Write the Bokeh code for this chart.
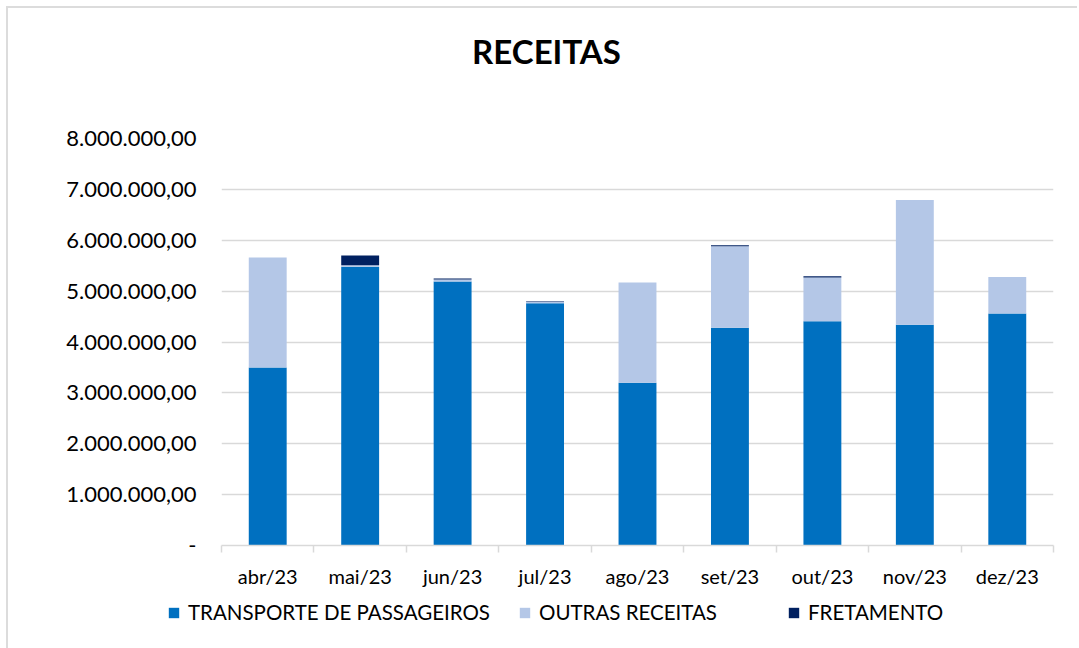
from bokeh.plotting import figure
from bokeh.models import ColumnDataSource, FixedTicker, Legend, LegendItem, Range1d, Label
from bokeh.embed import file_html
from bokeh.resources import INLINE
import numpy as np

months = ["abr/23", "mai/23", "jun/23", "jul/23", "ago/23", "set/23", "out/23", "nov/23", "dez/23"]
transporte = [3500000, 5480000, 5190000, 4760000, 3200000, 4280000, 4410000, 4340000, 4560000]
outras = [2160000, 30000, 40000, 30000, 1970000, 1600000, 860000, 2450000, 720000]
fretamento = [0, 190000, 20000, 10000, 0, 20000, 20000, 0, 0]
series_names = ["TRANSPORTE DE PASSAGEIROS", "OUTRAS RECEITAS", "FRETAMENTO"]
colors = ["#0070C0", "#B4C7E7", "#002060"]
y_ticks = [0, 1000000, 2000000, 3000000, 4000000, 5000000, 6000000, 7000000, 8000000]
y_tick_labels = ["-", "1.000.000,00", "2.000.000,00", "3.000.000,00", "4.000.000,00",
                 "5.000.000,00", "6.000.000,00", "7.000.000,00", "8.000.000,00"]
title_text = "RECEITAS"

FONT = "Lato"
W = 1071
BORDER = "2px solid #dcdcdc"
centers = (np.arange(len(months)) + 0.5).tolist()
src = ColumnDataSource(dict(x=centers, transporte=transporte, outras=outras, fretamento=fretamento))
stack_cols = ["transporte", "outras", "fretamento"]

# ---- title strip
t = figure(width=W, height=118, x_range=Range1d(0, 1), y_range=Range1d(0, 1),
           x_axis_type=None, y_axis_type=None, output_backend="svg", toolbar_location=None,
           min_border_left=0, min_border_right=0, min_border_top=0, min_border_bottom=0,
           styles={"border-top": BORDER, "border-left": BORDER, "margin-left": "6px", "margin-top": "6px"})
t.grid.visible = False
t.outline_line_color = None
t.add_layout(Label(x=538, y=76, x_units="screen", y_units="screen", text=title_text,
                   text_align="center", text_baseline="middle", text_font=FONT,
                   text_font_size="33px", text_font_style="bold", text_color="#000000"))

# ---- main chart
p = figure(width=W, height=474, x_range=Range1d(0, len(months)), y_range=Range1d(0, 8000000),
           output_backend="svg", toolbar_location=None,
           min_border_left=213, min_border_right=26, min_border_top=14, min_border_bottom=53,
           styles={"border-left": BORDER, "margin-left": "6px"})
p.outline_line_color = None

rs = p.vbar_stack(stack_cols, x="x", width=0.41, color=colors, line_color=None, source=src)

ya = p.yaxis[0]
ya.ticker = FixedTicker(ticks=y_ticks, minor_ticks=[])
ya.major_label_overrides = {tk: lb for tk, lb in zip(y_ticks, y_tick_labels)}
ya.axis_line_color = None
ya.major_tick_line_color = None
ya.minor_tick_line_color = None
ya.major_label_standoff = 19
ya.major_label_text_font = FONT
ya.major_label_text_font_size = "22px"
ya.major_label_text_color = "#000000"

xa = p.xaxis[0]
xa.ticker = FixedTicker(ticks=centers, minor_ticks=list(range(len(months) + 1)))
xa.major_label_overrides = {c: m for c, m in zip(centers, months)}
xa.axis_line_color = "#D9D9D9"
xa.axis_line_width = 1.5
xa.major_tick_line_color = None
xa.minor_tick_line_color = "#D9D9D9"
xa.minor_tick_line_width = 1.5
xa.minor_tick_in = 0
xa.minor_tick_out = 7
xa.major_tick_in = 0
xa.major_tick_out = 0
xa.major_label_standoff = 11
xa.major_label_text_font = FONT
xa.major_label_text_font_size = "20px"
xa.major_label_text_color = "#000000"

p.xgrid.grid_line_color = None
p.ygrid.grid_line_color = "#D9D9D9"
p.ygrid.grid_line_width = 1.5

# ---- legend strip (key renderers use the same data, kept out of the visible range)
lg = figure(width=W, height=50, x_range=Range1d(-100, -99), y_range=Range1d(-100, -99),
            x_axis_type=None, y_axis_type=None, output_backend="svg", toolbar_location=None,
            min_border_left=0, min_border_right=0, min_border_top=0, min_border_bottom=0,
            styles={"border-left": BORDER, "margin-left": "6px"})
lg.grid.visible = False
lg.outline_line_color = None
key_rs = lg.vbar_stack(stack_cols, x="x", width=0.41, color=colors, line_color=None, source=src)
legend_style = dict(orientation="horizontal", label_text_font=FONT, label_text_font_size="20.5px",
                    label_text_color="#000000", glyph_width=13, glyph_height=13, spacing=28,
                    label_standoff=8, border_line_color=None, background_fill_alpha=0,
                    margin=0, padding=0)
items = [LegendItem(label=n, renderers=[r]) for n, r in zip(series_names, key_rs)]
lg.add_layout(Legend(items=items[:2], location=(159, 24), **legend_style))
lg.add_layout(Legend(items=items[2:], location=(779, 24), **legend_style))

open("out.html", "w").write(file_html([t, p, lg], INLINE))
